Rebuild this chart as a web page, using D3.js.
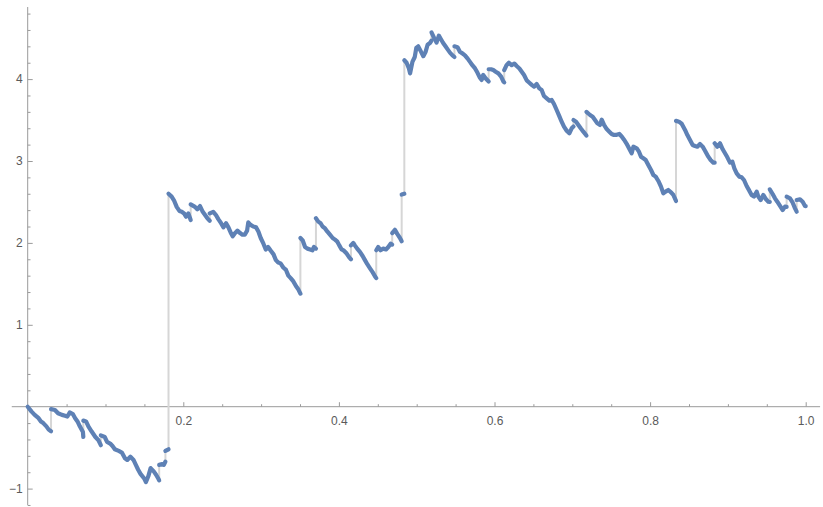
<!DOCTYPE html>
<html>
<head>
<meta charset="utf-8">
<style>
  body { margin: 0; background: #fff; }
  svg { display: block; }
  .tick text { font-family: "Liberation Sans", Arial, sans-serif; font-size: 12px; fill: #5a5a5a; }
</style>
</head>
<body>
<svg id="chart" width="823" height="507"></svg>
<script src="https://cdn.jsdelivr.net/npm/d3@7"></script>
<script>
    // sample times; a repeated time marks a jump (value before, value after)
    const times = [
        0, 0.005, 0.009, 0.014, 0.017, 0.020, 0.024, 0.027, 0.030,
        0.030, 0.035, 0.039, 0.044, 0.048, 0.051, 0.054, 0.058, 0.061, 0.064, 0.067, 0.071, 0.0715,
        0.0715, 0.075, 0.078, 0.082, 0.087, 0.091, 0.094,
        0.094, 0.099, 0.102, 0.106, 0.109, 0.112, 0.117, 0.121, 0.125, 0.128, 0.132, 0.136, 0.139,
        0.142, 0.145, 0.150, 0.152, 0.155, 0.158, 0.162, 0.165, 0.168, 0.169,
        0.169, 0.173, 0.175, 0.177,
        0.177, 0.181,
        0.181, 0.185, 0.188, 0.1915, 0.195, 0.198, 0.201, 0.2035, 0.2065, 0.2095,
        0.2095, 0.215, 0.218, 0.2215, 0.225, 0.228, 0.231, 0.234,
        0.234, 0.2385, 0.242, 0.245, 0.248, 0.2515, 0.255, 0.258, 0.261, 0.2635, 0.2665, 0.2695,
        0.273, 0.276, 0.279, 0.282, 0.2835, 0.2865, 0.290, 0.2935, 0.2965, 0.2995, 0.303, 0.306,
        0.309, 0.312, 0.316, 0.319, 0.322, 0.325, 0.3285, 0.332, 0.335, 0.338, 0.3415, 0.345,
        0.348, 0.3505,
        0.3505, 0.3535, 0.3565, 0.3595, 0.363, 0.366, 0.368, 0.3705,
        0.3705, 0.3735, 0.3765, 0.379, 0.382, 0.385, 0.3885, 0.392, 0.395, 0.398, 0.4005, 0.4035,
        0.4065, 0.410, 0.4135, 0.4155,
        0.4155, 0.4185, 0.4205, 0.4235, 0.427, 0.4305, 0.4335, 0.4365, 0.440, 0.4435, 0.4465, 0.448,
        0.448, 0.4505, 0.4535, 0.457, 0.4605, 0.4635, 0.4665, 0.4685,
        0.4685, 0.472, 0.475, 0.4785, 0.4807,
        0.4807, 0.4841,
        0.4841, 0.487, 0.490, 0.4915, 0.4945, 0.4975, 0.4995, 0.502, 0.5055, 0.5085, 0.5115, 0.514,
        0.517, 0.519,
        0.519, 0.5225, 0.5255, 0.5285, 0.531, 0.534, 0.537, 0.540, 0.543, 0.546, 0.5485,
        0.5485, 0.5525, 0.5555, 0.5585, 0.562, 0.5655, 0.5685, 0.5715, 0.575, 0.578, 0.581, 0.5835,
        0.5855, 0.5885, 0.5925,
        0.5925, 0.5955, 0.5985, 0.6015, 0.605, 0.6085, 0.6115, 0.6125,
        0.6125, 0.6155, 0.6185, 0.622, 0.6255, 0.6285, 0.632, 0.635, 0.638, 0.6414, 0.6448, 0.6478,
        0.6508, 0.6542, 0.6576, 0.6606, 0.6636, 0.6671, 0.6705, 0.6735, 0.6765, 0.6799, 0.6833,
        0.6863, 0.6893, 0.6928, 0.6962, 0.6992, 0.7015,
        0.7015, 0.7048, 0.7078, 0.7108, 0.7142, 0.7176, 0.7182,
        0.7182, 0.7206, 0.7228, 0.7262, 0.7292, 0.7322, 0.7356, 0.7378, 0.7408, 0.7442, 0.7476,
        0.7506, 0.7536, 0.757, 0.7605, 0.7635, 0.7665, 0.7699, 0.7729, 0.7763, 0.7785, 0.7827,
        0.7857, 0.7883, 0.7913, 0.7943, 0.7977, 0.8012, 0.8042, 0.8072, 0.8106, 0.814, 0.817,
        0.820, 0.8234, 0.8269, 0.8299, 0.8333,
        0.8333, 0.8371, 0.8406, 0.8449, 0.8479, 0.8513, 0.8547, 0.8577, 0.8607, 0.8641, 0.8676,
        0.8706, 0.8748, 0.8778, 0.8813, 0.883,
        0.883, 0.8864, 0.8899, 0.8933, 0.8963, 0.8993, 0.9027, 0.9057, 0.9083, 0.9113, 0.9147,
        0.9177, 0.9207, 0.9241, 0.9275, 0.9305, 0.9335, 0.937, 0.9391, 0.9421, 0.9455, 0.949,
        0.952, 0.9538,
        0.9538, 0.9575, 0.9605, 0.9635, 0.967, 0.9704, 0.9734, 0.9755,
        0.9755, 0.9798, 0.9833, 0.9863, 0.9884,
        0.9884, 0.9927, 0.9961, 0.9991, 1.0
    ];

    const values = [
        0, -0.06, -0.10, -0.14, -0.18, -0.20, -0.24, -0.28, -0.30,
        -0.03, -0.04, -0.08, -0.10, -0.11, -0.12, -0.07, -0.09, -0.14, -0.18, -0.24, -0.31, -0.37,
        -0.17, -0.18, -0.24, -0.30, -0.37, -0.41, -0.47,
        -0.35, -0.37, -0.43, -0.45, -0.48, -0.52, -0.54, -0.56, -0.63, -0.65, -0.61, -0.65, -0.71,
        -0.77, -0.82, -0.88, -0.92, -0.85, -0.75, -0.79, -0.83, -0.88, -0.90,
        -0.71, -0.70, -0.71, -0.67,
        -0.54, -0.52,
        2.60, 2.565, 2.52, 2.44, 2.39, 2.38, 2.36, 2.32, 2.36, 2.28,
        2.47, 2.44, 2.41, 2.45, 2.38, 2.34, 2.30, 2.27,
        2.36, 2.38, 2.34, 2.29, 2.25, 2.19, 2.24, 2.19, 2.125, 2.08, 2.12, 2.15,
        2.12, 2.10, 2.10, 2.15, 2.25, 2.22, 2.20, 2.19, 2.14, 2.06, 1.99, 1.92,
        1.95, 1.91, 1.86, 1.79, 1.76, 1.75, 1.70, 1.67, 1.60, 1.57, 1.53, 1.47,
        1.43, 1.38,
        2.06, 2.03, 1.95, 1.93, 1.92, 1.91, 1.95, 1.93,
        2.30, 2.26, 2.24, 2.20, 2.18, 2.14, 2.10, 2.06, 2.04, 2.015, 1.97, 1.92,
        1.905, 1.87, 1.82, 1.80,
        1.97, 2.00, 1.97, 1.93, 1.89, 1.84, 1.79, 1.74, 1.69, 1.64, 1.59, 1.57,
        1.91, 1.95, 1.91, 1.93, 1.92, 1.95, 1.99, 1.98,
        2.12, 2.16, 2.11, 2.06, 2.02,
        2.59, 2.60,
        4.23, 4.20, 4.13, 4.07, 4.21, 4.27, 4.38, 4.40, 4.335, 4.28, 4.335, 4.42,
        4.44, 4.47,
        4.57, 4.50, 4.445, 4.53, 4.49, 4.44, 4.40, 4.36, 4.32, 4.29, 4.27,
        4.40, 4.39, 4.335, 4.315, 4.29, 4.25, 4.21, 4.17, 4.13, 4.08, 4.02, 3.99,
        4.05, 4.01, 3.97,
        4.12, 4.12, 4.11, 4.09, 4.07, 4.03, 3.97, 3.96,
        4.11, 4.17, 4.20, 4.17, 4.19, 4.16, 4.13, 4.09, 4.05, 3.985, 3.956, 3.93,
        3.908, 3.94, 3.887, 3.867, 3.794, 3.765, 3.737, 3.745, 3.696, 3.623, 3.549,
        3.48, 3.419, 3.37, 3.338, 3.399, 3.42,
        3.50, 3.48, 3.44, 3.40, 3.358, 3.318, 3.31,
        3.60, 3.58, 3.562, 3.541, 3.501, 3.46, 3.44, 3.505, 3.44, 3.39, 3.358,
        3.33, 3.318, 3.32, 3.33, 3.30, 3.26, 3.21, 3.155, 3.094, 3.175, 3.155,
        3.114, 3.053, 3.033, 3.012, 2.951, 2.89, 2.829, 2.809, 2.756, 2.687, 2.605,
        2.626, 2.646, 2.618, 2.585, 2.512,
        3.49, 3.48, 3.455, 3.379, 3.317, 3.256, 3.195, 3.183, 3.175, 3.207, 3.175,
        3.126, 3.053, 3.012, 2.98, 2.98,
        3.216, 3.175, 3.216, 3.143, 3.094, 3.045, 2.98, 2.992, 2.911, 2.849, 2.809,
        2.801, 2.768, 2.695, 2.638, 2.585, 2.565, 2.626, 2.565, 2.524, 2.585, 2.532,
        2.503, 2.50,
        2.654, 2.597, 2.544, 2.503, 2.451, 2.402, 2.443, 2.44,
        2.565, 2.544, 2.491, 2.422, 2.381,
        2.524, 2.532, 2.503, 2.451, 2.45
    ];

    const xTicks = [0.2, 0.4, 0.6, 0.8, 1.0];
    const xTickLabels = ["0.2", "0.4", "0.6", "0.8", "1.0"];
    const yTicks = [-1, 1, 2, 3, 4];
    const yTickLabels = ["\u22121", "1", "2", "3", "4"];

    const svg = d3.select("#chart");

    const x = d3.scaleLinear().domain([0, 1]).range([27.7, 805.7]);
    const y = d3.scaleLinear().domain([0, 4]).range([406.7, 79.1]);

    const axisColor = "#9a9a9a";

    // split into continuous pieces and jumps
    let segments = [];
    let jumps = [];
    let cur = [];
    times.forEach(function(t, i) {
        if (i > 0 && t === times[i - 1]) {
            jumps.push([t, values[i - 1], values[i]]);
            segments.push(cur);
            cur = [];
        }
        cur.push([t, values[i]]);
    });
    segments.push(cur);

    // axis lines
    svg.append("line")
        .attr("x1", x(-0.0205)).attr("x2", x(1.0185))
        .attr("y1", y(0)).attr("y2", y(0))
        .attr("stroke", axisColor).attr("stroke-width", 1);
    svg.append("line")
        .attr("x1", x(0)).attr("x2", x(0))
        .attr("y1", y(4.88)).attr("y2", y(-1.2))
        .attr("stroke", axisColor).attr("stroke-width", 1);

    // x axis ticks
    const xMinor = d3.range(1, 21).map(function(k) { return k * 0.05; })
        .filter(function(d, i) { return (i + 1) % 4 !== 0; });
    let gx = svg.append("g").attr("transform", "translate(0," + y(0) + ")");
    gx.call(d3.axisBottom(x).tickValues(xTicks)
        .tickFormat(function(d, i) { return xTickLabels[i]; })
        .tickSizeInner(-4.5).tickSizeOuter(0).tickPadding(10));
    let gxm = svg.append("g").attr("transform", "translate(0," + y(0) + ")");
    gxm.call(d3.axisBottom(x).tickValues(xMinor).tickFormat("")
        .tickSizeInner(-2.5).tickSizeOuter(0));

    // y axis ticks
    const yMinor = d3.range(-6, 25).map(function(k) { return k * 0.2; })
        .filter(function(d, i) { return (i - 6 + 100) % 5 !== 0; });
    let gy = svg.append("g").attr("transform", "translate(" + x(0) + ",0)");
    gy.call(d3.axisLeft(y).tickValues(yTicks)
        .tickFormat(function(d, i) { return yTickLabels[i]; })
        .tickSizeInner(-5).tickSizeOuter(0).tickPadding(5));
    let gym = svg.append("g").attr("transform", "translate(" + x(0) + ",0)");
    gym.call(d3.axisLeft(y).tickValues(yMinor).tickFormat("")
        .tickSizeInner(-2.8).tickSizeOuter(0));

    [gx, gxm, gy, gym].forEach(function(g) {
        g.select(".domain").remove();
        g.selectAll(".tick line").attr("stroke", axisColor);
    });

    // jumps in light gray
    svg.append("g")
        .selectAll("line")
        .data(jumps)
        .join("line")
        .attr("x1", function(d) { return x(d[0]); })
        .attr("x2", function(d) { return x(d[0]); })
        .attr("y1", function(d) { return y(d[1]); })
        .attr("y2", function(d) { return y(d[2]); })
        .attr("stroke", "#d6d6d6")
        .attr("stroke-width", 2);

    const line = d3.line()
        .x(function(d) { return x(d[0]); })
        .y(function(d) { return y(d[1]); });

    svg.append("g")
        .selectAll("path")
        .data(segments)
        .join("path")
        .attr("d", line)
        .attr("fill", "none")
        .attr("stroke", "#5e81b5")
        .attr("stroke-width", 4.2)
        .attr("stroke-linejoin", "round")
        .attr("stroke-linecap", "round");
</script>
</body>
</html>
